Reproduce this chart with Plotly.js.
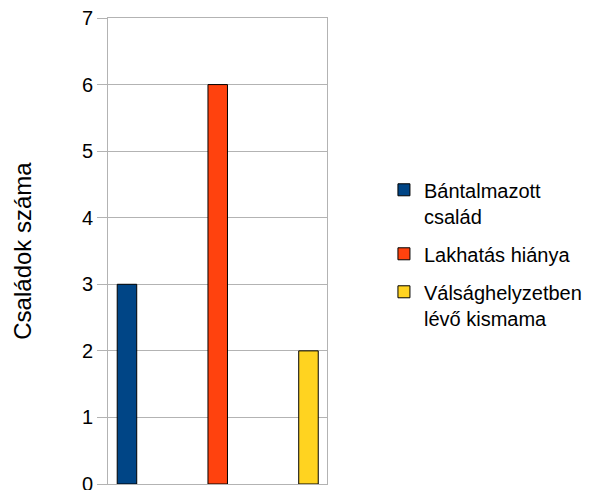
<!DOCTYPE html>
<html>
<head>
<meta charset="utf-8">
<script src="https://cdn.plot.ly/plotly-3.0.1.min.js"></script>
<style>html,body{margin:0;padding:0;background:#fff;}</style>
</head>
<body>
<div id="chart" style="width:598px;height:490px;"></div>
<script>
const categories = ["Bántalmazott család", "Lakhatás hiánya", "Válsághelyzetben lévő kismama"];
const legendNames = ["Bántalmazott<br>család", "Lakhatás hiánya", "Válsághelyzetben<br>lévő kismama"];
const values = [3, 6, 2];
const colors = ["#004586", "#ff420e", "#ffd320"];
const yTicks = [0, 1, 2, 3, 4, 5, 6, 7];
const yTitle = "Családok száma";

const traces = categories.map((c, i) => ({
  type: "bar",
  x: [c],
  y: [values[i]],
  name: legendNames[i],
  legendgroup: "g" + i,
  width: 0.215,
  marker: {color: colors[i], line: {color: "#000000", width: 1}},
  hoverinfo: "x+y"
}));

const layout = {
  width: 598, height: 490,
  margin: {l: 108, r: 271, t: 18, b: 6},
  paper_bgcolor: "#ffffff",
  plot_bgcolor: "#ffffff",
  font: {family: "Liberation Sans, Arial, sans-serif", color: "#000000", size: 20},
  barmode: "overlay",
  showlegend: true,
  legend: {
    x: 1.26, xanchor: "left", y: 0.494, yanchor: "middle",
    font: {size: 20}, tracegroupgap: 9, itemwidth: 30, valign: "top",
    bgcolor: "rgba(0,0,0,0)"
  },
  xaxis: {
    type: "category",
    range: [-0.209, 2.204],
    showticklabels: false,
    ticks: "",
    showgrid: false,
    showline: true, mirror: true, linecolor: "#b3b3b3", linewidth: 1,
    zeroline: false, fixedrange: true
  },
  yaxis: {
    range: [0, 7],
    tickvals: yTicks,
    ticktext: yTicks.map(String),
    ticks: "outside", ticklen: 10, tickcolor: "#b3b3b3", tickwidth: 1,
    tickfont: {size: 20},
    ticklabeloverflow: "allow",
    showgrid: true, gridcolor: "#b3b3b3", gridwidth: 1,
    showline: true, mirror: true, linecolor: "#b3b3b3", linewidth: 1,
    zeroline: false,
    title: {text: "\u00a0\u00a0" + yTitle, font: {size: 24}, standoff: 43},
    fixedrange: true
  }
};

Plotly.newPlot("chart", traces, layout, {displayModeBar: false});
</script>
</body>
</html>
